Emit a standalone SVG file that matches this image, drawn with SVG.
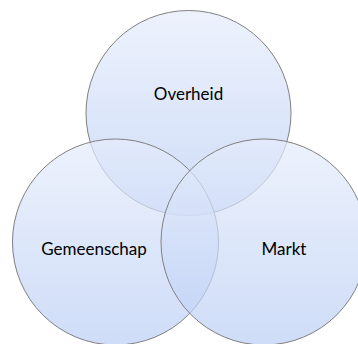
<svg xmlns="http://www.w3.org/2000/svg" width="358" height="344" viewBox="0 0 358 344">
<style>
.c{stroke:#808080;stroke-width:1;fill:url(#g);fill-opacity:0.7}
.t{font-family:Lato,"Open Sans","Liberation Sans",sans-serif;font-size:17px;fill:#000;text-anchor:middle}
</style>
<defs>
<linearGradient id="g" x1="0" y1="0" x2="0" y2="1">
<stop offset="0" stop-color="rgb(229,236,251)"/>
<stop offset="1" stop-color="rgb(186,206,245)"/>
</linearGradient>
</defs>
<rect width="358" height="344" fill="#fff"/>
<g id="overheid">
<circle class="c" cx="188.5" cy="113" r="102.5"/>
<text class="t" x="188.5" y="100">Overheid</text>
</g>
<g id="gemeenschap">
<circle class="c" cx="115.5" cy="242" r="103"/>
<text class="t" x="94" y="255">Gemeenschap</text>
</g>
<g id="markt">
<circle class="c" cx="264" cy="242" r="103"/>
<text class="t" x="284" y="255">Markt</text>
</g>
<g id="connectors"/>
</svg>
